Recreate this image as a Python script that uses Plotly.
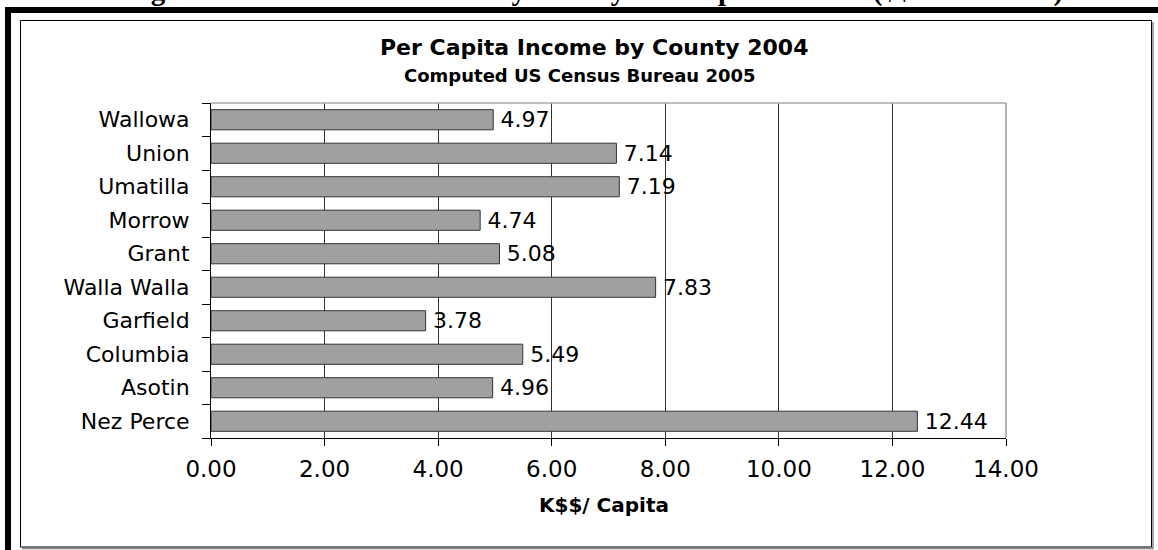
import plotly.graph_objects as go

counties = ["Nez Perce", "Asotin", "Columbia", "Garfield", "Walla Walla",
            "Grant", "Morrow", "Umatilla", "Union", "Wallowa"]
income = [12.44, 4.96, 5.49, 3.78, 7.83, 5.08, 4.74, 7.19, 7.14, 4.97]
x_ticks = [0, 2, 4, 6, 8, 10, 12, 14]
x_tick_labels = ["0.00", "2.00", "4.00", "6.00", "8.00", "10.00", "12.00", "14.00"]

W, H = 1158, 550
L, R, T, B = 211, 1006, 103, 438  # plot area pixel bounds

def px(x):
    return (x - L) / (R - L)

def py(y):
    return (B - y) / (B - T)

FONT = "'DejaVu Sans', Arial, sans-serif"

fig = go.Figure()
fig.add_trace(go.Bar(
    x=income, y=counties, orientation="h",
    marker=dict(color="#a0a0a0", line=dict(color="#333333", width=1)),
    text=[f"\u2009{v:.2f}" for v in income], textposition="outside",
    textfont=dict(family=FONT, size=22, color="#000"),
    constraintext="none",
    cliponaxis=False,
))

shapes = [
    # thick outer frame (top and left)
    dict(type="rect", xref="paper", yref="paper", x0=px(5), x1=px(1160), y0=py(13), y1=py(7),
         fillcolor="#000", line=dict(width=0), layer="above"),
    dict(type="rect", xref="paper", yref="paper", x0=px(5), x1=px(11), y0=py(560), y1=py(7),
         fillcolor="#000", line=dict(width=0), layer="above"),
    # inner chart box with shadow
    dict(type="line", xref="paper", yref="paper", x0=px(1153), x1=px(1153), y0=py(549), y1=py(22),
         line=dict(color="#888", width=1.5), layer="above"),
    dict(type="line", xref="paper", yref="paper", x0=px(22), x1=px(1153), y0=py(548.5), y1=py(548.5),
         line=dict(color="#888", width=1.5), layer="above"),
    dict(type="rect", xref="paper", yref="paper", x0=px(20.5), x1=px(1151.5), y0=py(547), y1=py(20.5),
         line=dict(color="#000", width=1), layer="above"),
    # plot area border (top / right) in gray
    dict(type="line", xref="paper", yref="paper", x0=0, x1=1, y0=1, y1=1,
         line=dict(color="#aaaaaa", width=1.5), layer="above"),
    dict(type="line", xref="paper", yref="paper", x0=1, x1=1, y0=0, y1=1,
         line=dict(color="#999999", width=1.5), layer="above"),
]

annotations = [
    dict(text="<b>Figure 5-1: Umatilla NF Vicinity County Per Capita Income ($$ Thousands)</b>",
         xref="paper", yref="paper", x=px(594), y=py(9), xanchor="center", yanchor="bottom",
         showarrow=False, font=dict(family="'Liberation Serif', 'Times New Roman', serif", size=29, color="#000")),
    dict(text="<b>Per Capita Income by County 2004</b>", xref="paper", yref="paper",
         x=px(594), y=py(48), xanchor="center", yanchor="middle", showarrow=False,
         font=dict(family=FONT, size=22, color="#000")),
    dict(text="<b>Computed US Census Bureau 2005</b>", xref="paper", yref="paper",
         x=px(580), y=py(75), xanchor="center", yanchor="middle", showarrow=False,
         font=dict(family=FONT, size=18, color="#000")),
    dict(text="<b>K$$/ Capita</b>", xref="paper", yref="paper",
         x=px(604), y=py(505), xanchor="center", yanchor="middle", showarrow=False,
         font=dict(family=FONT, size=20, color="#000")),
]

fig.update_layout(
    width=W, height=H,
    margin=dict(l=L, r=W - R, t=T, b=H - B, pad=0),
    paper_bgcolor="#fff", plot_bgcolor="#fff",
    showlegend=False, bargap=0.4,
    shapes=shapes, annotations=annotations,
    font=dict(family=FONT, color="#000"),
)
fig.update_xaxes(
    range=[0, 14], tickvals=x_ticks, ticktext=x_tick_labels,
    showgrid=True, gridcolor="#333333", gridwidth=1,
    showline=True, linecolor="#000", linewidth=1,
    ticks="outside", ticklen=7, tickcolor="#000", ticklabelstandoff=3,
    tickfont=dict(family=FONT, size=23, color="#000"),
    zeroline=False, fixedrange=True,
)
fig.update_yaxes(
    categoryorder="array", categoryarray=counties,
    showline=True, linecolor="#000", linewidth=1,
    ticks="outside", ticklen=8, tickcolor="#000", tickson="boundaries",
    ticklabelstandoff=16,
    tickfont=dict(family=FONT, size=22, color="#000"),
    showgrid=False, zeroline=False, fixedrange=True,
)

fig.write_html("out.html", config={"displayModeBar": False},
               post_script="document.body.style.margin='0';document.body.style.overflow='hidden';")
